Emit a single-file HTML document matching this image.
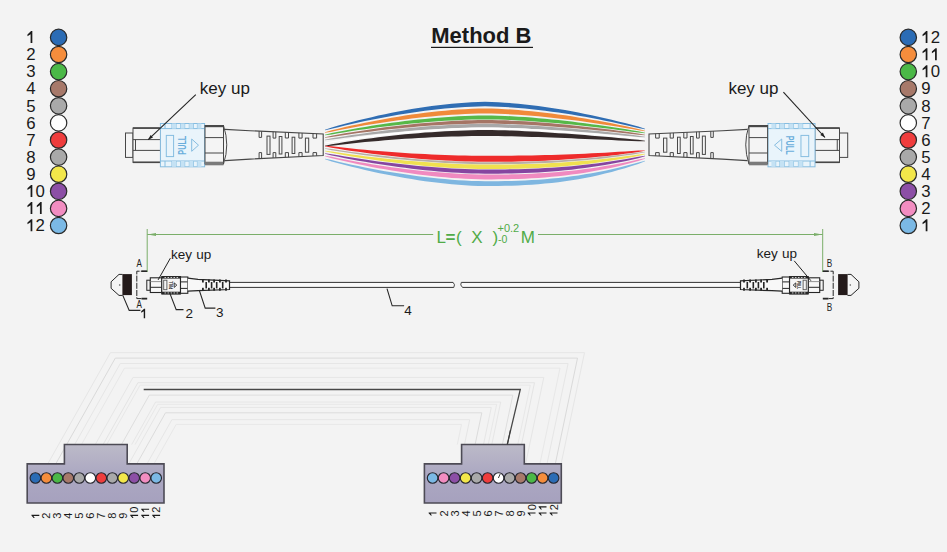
<!DOCTYPE html><html><head><meta charset="utf-8"><style>
html,body{margin:0;padding:0;background:#f3f3f3;width:947px;height:552px;overflow:hidden}
svg{position:absolute;left:0;top:0}
text{font-family:"Liberation Sans",sans-serif}
</style></head><body>
<svg width="947" height="552" viewBox="0 0 947 552">
<circle cx="58.6" cy="37.4" r="8.2" fill="#2b6cb5" stroke="#2a2a2a" stroke-width="1.2"/>
<path d="M30.60,43.10 L30.60,34.20 L27.46,36.13 L27.46,34.45 L31.07,31.07 L32.33,31.07 L32.33,43.10 Z" fill="#1a1a1a"/>
<circle cx="908.3" cy="37.4" r="8.2" fill="#2b6cb5" stroke="#2a2a2a" stroke-width="1.2"/>
<path d="M925.70,43.10 L925.70,34.20 L922.56,36.13 L922.56,34.45 L926.17,31.07 L927.43,31.07 L927.43,43.10 Z" fill="#1a1a1a"/><text x="930.64" y="43.10" font-size="16.8" fill="#1a1a1a">2</text>
<circle cx="58.6" cy="54.5" r="8.2" fill="#f58d3c" stroke="#2a2a2a" stroke-width="1.2"/>
<text x="26.20" y="60.20" font-size="16.8" fill="#1a1a1a">2</text>
<circle cx="908.3" cy="54.5" r="8.2" fill="#f58d3c" stroke="#2a2a2a" stroke-width="1.2"/>
<path d="M925.70,60.20 L925.70,51.30 L922.56,53.23 L922.56,51.55 L926.17,48.17 L927.43,48.17 L927.43,60.20 Z" fill="#1a1a1a"/><path d="M935.04,60.20 L935.04,51.30 L931.90,53.23 L931.90,51.55 L935.51,48.17 L936.77,48.17 L936.77,60.20 Z" fill="#1a1a1a"/>
<circle cx="58.6" cy="71.6" r="8.2" fill="#4bb847" stroke="#2a2a2a" stroke-width="1.2"/>
<text x="26.20" y="77.30" font-size="16.8" fill="#1a1a1a">3</text>
<circle cx="908.3" cy="71.6" r="8.2" fill="#4bb847" stroke="#2a2a2a" stroke-width="1.2"/>
<path d="M925.70,77.30 L925.70,68.40 L922.56,70.33 L922.56,68.65 L926.17,65.27 L927.43,65.27 L927.43,77.30 Z" fill="#1a1a1a"/><text x="930.64" y="77.30" font-size="16.8" fill="#1a1a1a">0</text>
<circle cx="58.6" cy="88.7" r="8.2" fill="#a7796a" stroke="#2a2a2a" stroke-width="1.2"/>
<text x="26.20" y="94.40" font-size="16.8" fill="#1a1a1a">4</text>
<circle cx="908.3" cy="88.7" r="8.2" fill="#a7796a" stroke="#2a2a2a" stroke-width="1.2"/>
<text x="921.30" y="94.40" font-size="16.8" fill="#1a1a1a">9</text>
<circle cx="58.6" cy="105.8" r="8.2" fill="#a9a9a9" stroke="#2a2a2a" stroke-width="1.2"/>
<text x="26.20" y="111.50" font-size="16.8" fill="#1a1a1a">5</text>
<circle cx="908.3" cy="105.8" r="8.2" fill="#a9a9a9" stroke="#2a2a2a" stroke-width="1.2"/>
<text x="921.30" y="111.50" font-size="16.8" fill="#1a1a1a">8</text>
<circle cx="58.6" cy="122.9" r="8.2" fill="#ffffff" stroke="#2a2a2a" stroke-width="1.2"/>
<text x="26.20" y="128.60" font-size="16.8" fill="#1a1a1a">6</text>
<circle cx="908.3" cy="122.9" r="8.2" fill="#ffffff" stroke="#2a2a2a" stroke-width="1.2"/>
<text x="921.30" y="128.60" font-size="16.8" fill="#1a1a1a">7</text>
<circle cx="58.6" cy="140.0" r="8.2" fill="#ef3d3d" stroke="#2a2a2a" stroke-width="1.2"/>
<text x="26.20" y="145.70" font-size="16.8" fill="#1a1a1a">7</text>
<circle cx="908.3" cy="140.0" r="8.2" fill="#ef3d3d" stroke="#2a2a2a" stroke-width="1.2"/>
<text x="921.30" y="145.70" font-size="16.8" fill="#1a1a1a">6</text>
<circle cx="58.6" cy="157.1" r="8.2" fill="#a9a9a9" stroke="#2a2a2a" stroke-width="1.2"/>
<text x="26.20" y="162.80" font-size="16.8" fill="#1a1a1a">8</text>
<circle cx="908.3" cy="157.1" r="8.2" fill="#a9a9a9" stroke="#2a2a2a" stroke-width="1.2"/>
<text x="921.30" y="162.80" font-size="16.8" fill="#1a1a1a">5</text>
<circle cx="58.6" cy="174.2" r="8.2" fill="#f3e74a" stroke="#2a2a2a" stroke-width="1.2"/>
<text x="26.20" y="179.90" font-size="16.8" fill="#1a1a1a">9</text>
<circle cx="908.3" cy="174.2" r="8.2" fill="#f3e74a" stroke="#2a2a2a" stroke-width="1.2"/>
<text x="921.30" y="179.90" font-size="16.8" fill="#1a1a1a">4</text>
<circle cx="58.6" cy="191.3" r="8.2" fill="#8c4fa6" stroke="#2a2a2a" stroke-width="1.2"/>
<path d="M30.60,197.00 L30.60,188.10 L27.46,190.03 L27.46,188.35 L31.07,184.97 L32.33,184.97 L32.33,197.00 Z" fill="#1a1a1a"/><text x="35.54" y="197.00" font-size="16.8" fill="#1a1a1a">0</text>
<circle cx="908.3" cy="191.3" r="8.2" fill="#8c4fa6" stroke="#2a2a2a" stroke-width="1.2"/>
<text x="921.30" y="197.00" font-size="16.8" fill="#1a1a1a">3</text>
<circle cx="58.6" cy="208.4" r="8.2" fill="#f28dc1" stroke="#2a2a2a" stroke-width="1.2"/>
<path d="M30.60,214.10 L30.60,205.20 L27.46,207.13 L27.46,205.45 L31.07,202.07 L32.33,202.07 L32.33,214.10 Z" fill="#1a1a1a"/><path d="M39.94,214.10 L39.94,205.20 L36.80,207.13 L36.80,205.45 L40.41,202.07 L41.67,202.07 L41.67,214.10 Z" fill="#1a1a1a"/>
<circle cx="908.3" cy="208.4" r="8.2" fill="#f28dc1" stroke="#2a2a2a" stroke-width="1.2"/>
<text x="921.30" y="214.10" font-size="16.8" fill="#1a1a1a">2</text>
<circle cx="58.6" cy="225.5" r="8.2" fill="#7bb9e5" stroke="#2a2a2a" stroke-width="1.2"/>
<path d="M30.60,231.20 L30.60,222.30 L27.46,224.23 L27.46,222.55 L31.07,219.17 L32.33,219.17 L32.33,231.20 Z" fill="#1a1a1a"/><text x="35.54" y="231.20" font-size="16.8" fill="#1a1a1a">2</text>
<circle cx="908.3" cy="225.5" r="8.2" fill="#7bb9e5" stroke="#2a2a2a" stroke-width="1.2"/>
<path d="M925.70,231.20 L925.70,222.30 L922.56,224.23 L922.56,222.55 L926.17,219.17 L927.43,219.17 L927.43,231.20 Z" fill="#1a1a1a"/>
<text x="431.3" y="42.5" font-size="22" font-weight="bold" fill="#1a1a1a">Method B</text>
<rect x="431" y="46.8" width="102" height="1.2" fill="#1a1a1a"/>
<path d="M325.0,129.80 L331.7,127.50 L338.3,125.62 L345.0,123.80 L351.7,122.03 L358.3,120.33 L365.0,118.70 L371.7,117.13 L378.3,115.62 L385.0,114.18 L391.7,112.81 L398.3,111.50 L405.0,110.27 L411.7,109.10 L418.3,108.02 L425.0,107.00 L431.7,106.06 L438.3,105.20 L445.0,104.43 L451.7,103.74 L458.3,103.14 L465.0,102.64 L471.7,102.25 L478.3,101.97 L485.0,101.85 L491.7,101.97 L498.3,102.25 L505.0,102.64 L511.7,103.13 L518.3,103.73 L525.0,104.41 L531.7,105.17 L538.3,106.01 L545.0,106.93 L551.7,107.92 L558.3,108.98 L565.0,110.11 L571.7,111.31 L578.3,112.57 L585.0,113.90 L591.7,115.29 L598.3,116.73 L605.0,118.24 L611.7,119.80 L618.3,121.42 L625.0,123.10 L631.7,124.83 L638.3,126.61 L645.0,128.80 L645.0,129.20 L638.3,127.95 L631.7,126.40 L625.0,124.89 L618.3,123.43 L611.7,122.02 L605.0,120.65 L598.3,119.34 L591.7,118.08 L585.0,116.87 L578.3,115.71 L571.7,114.61 L565.0,113.57 L558.3,112.58 L551.7,111.65 L545.0,110.79 L538.3,109.99 L531.7,109.25 L525.0,108.58 L518.3,107.99 L511.7,107.47 L505.0,107.04 L498.3,106.70 L491.7,106.46 L485.0,106.35 L478.3,106.46 L471.7,106.70 L465.0,107.04 L458.3,107.48 L451.7,108.00 L445.0,108.61 L438.3,109.29 L431.7,110.04 L425.0,110.86 L418.3,111.75 L411.7,112.70 L405.0,113.72 L398.3,114.80 L391.7,115.95 L385.0,117.15 L378.3,118.41 L371.7,119.73 L365.0,121.11 L358.3,122.55 L351.7,124.04 L345.0,125.59 L338.3,127.19 L331.7,128.84 L325.0,130.20 Z" fill="#2f6db3"/>
<path d="M325.0,132.30 L331.7,130.28 L338.3,128.67 L345.0,127.11 L351.7,125.61 L358.3,124.16 L365.0,122.76 L371.7,121.43 L378.3,120.14 L385.0,118.92 L391.7,117.75 L398.3,116.65 L405.0,115.60 L411.7,114.62 L418.3,113.70 L425.0,112.84 L431.7,112.05 L438.3,111.32 L445.0,110.67 L451.7,110.09 L458.3,109.59 L465.0,109.16 L471.7,108.83 L478.3,108.60 L485.0,108.50 L491.7,108.60 L498.3,108.83 L505.0,109.16 L511.7,109.57 L518.3,110.07 L525.0,110.63 L531.7,111.27 L538.3,111.97 L545.0,112.73 L551.7,113.55 L558.3,114.43 L565.0,115.37 L571.7,116.36 L578.3,117.40 L585.0,118.50 L591.7,119.64 L598.3,120.84 L605.0,122.07 L611.7,123.36 L618.3,124.69 L625.0,126.07 L631.7,127.49 L638.3,128.95 L645.0,130.80 L645.0,131.20 L638.3,130.32 L631.7,129.12 L625.0,127.96 L618.3,126.83 L611.7,125.74 L605.0,124.68 L598.3,123.67 L591.7,122.69 L585.0,121.74 L578.3,120.84 L571.7,119.99 L565.0,119.17 L558.3,118.40 L551.7,117.67 L545.0,117.00 L538.3,116.37 L531.7,115.79 L525.0,115.26 L518.3,114.80 L511.7,114.39 L505.0,114.05 L498.3,113.77 L491.7,113.58 L485.0,113.50 L478.3,113.58 L471.7,113.78 L465.0,114.05 L458.3,114.40 L451.7,114.82 L445.0,115.30 L438.3,115.84 L431.7,116.44 L425.0,117.10 L418.3,117.81 L411.7,118.58 L405.0,119.40 L398.3,120.27 L391.7,121.19 L385.0,122.17 L378.3,123.19 L371.7,124.26 L365.0,125.37 L358.3,126.54 L351.7,127.75 L345.0,129.01 L338.3,130.31 L331.7,131.66 L325.0,132.70 Z" fill="#f08a3a"/>
<path d="M325.0,134.80 L331.7,133.08 L338.3,131.76 L345.0,130.48 L351.7,129.25 L358.3,128.07 L365.0,126.93 L371.7,125.84 L378.3,124.79 L385.0,123.80 L391.7,122.85 L398.3,121.96 L405.0,121.11 L411.7,120.31 L418.3,119.57 L425.0,118.88 L431.7,118.24 L438.3,117.66 L445.0,117.13 L451.7,116.67 L458.3,116.27 L465.0,115.93 L471.7,115.67 L478.3,115.48 L485.0,115.40 L491.7,115.48 L498.3,115.66 L505.0,115.92 L511.7,116.25 L518.3,116.64 L525.0,117.09 L531.7,117.59 L538.3,118.14 L545.0,118.74 L551.7,119.38 L558.3,120.07 L565.0,120.80 L571.7,121.57 L578.3,122.39 L585.0,123.24 L591.7,124.13 L598.3,125.05 L605.0,126.01 L611.7,127.00 L618.3,128.03 L625.0,129.09 L631.7,130.18 L638.3,131.30 L645.0,132.80 L645.0,133.20 L638.3,132.60 L631.7,131.68 L625.0,130.78 L618.3,129.90 L611.7,129.05 L605.0,128.23 L598.3,127.44 L591.7,126.67 L585.0,125.93 L578.3,125.23 L571.7,124.55 L565.0,123.91 L558.3,123.30 L551.7,122.73 L545.0,122.19 L538.3,121.69 L531.7,121.23 L525.0,120.81 L518.3,120.44 L511.7,120.11 L505.0,119.84 L498.3,119.62 L491.7,119.47 L485.0,119.40 L478.3,119.47 L471.7,119.62 L465.0,119.85 L458.3,120.13 L451.7,120.47 L445.0,120.86 L438.3,121.30 L431.7,121.79 L425.0,122.33 L418.3,122.91 L411.7,123.54 L405.0,124.22 L398.3,124.93 L391.7,125.69 L385.0,126.50 L378.3,127.34 L371.7,128.22 L365.0,129.15 L358.3,130.12 L351.7,131.12 L345.0,132.17 L338.3,133.26 L331.7,134.38 L325.0,135.20 Z" fill="#56b848"/>
<path d="M325.0,137.30 L331.7,135.71 L338.3,134.52 L345.0,133.36 L351.7,132.25 L358.3,131.19 L365.0,130.16 L371.7,129.18 L378.3,128.25 L385.0,127.36 L391.7,126.51 L398.3,125.71 L405.0,124.96 L411.7,124.25 L418.3,123.58 L425.0,122.97 L431.7,122.41 L438.3,121.89 L445.0,121.43 L451.7,121.02 L458.3,120.66 L465.0,120.37 L471.7,120.13 L478.3,119.97 L485.0,119.90 L491.7,119.97 L498.3,120.13 L505.0,120.36 L511.7,120.64 L518.3,120.98 L525.0,121.37 L531.7,121.80 L538.3,122.28 L545.0,122.79 L551.7,123.35 L558.3,123.94 L565.0,124.57 L571.7,125.23 L578.3,125.93 L585.0,126.66 L591.7,127.41 L598.3,128.20 L605.0,129.01 L611.7,129.86 L618.3,130.73 L625.0,131.62 L631.7,132.54 L638.3,133.48 L645.0,134.80 L645.0,135.20 L638.3,134.76 L631.7,133.98 L625.0,133.23 L618.3,132.49 L611.7,131.78 L605.0,131.08 L598.3,130.41 L591.7,129.76 L585.0,129.13 L578.3,128.53 L571.7,127.95 L565.0,127.40 L558.3,126.88 L551.7,126.38 L545.0,125.92 L538.3,125.49 L531.7,125.09 L525.0,124.73 L518.3,124.41 L511.7,124.12 L505.0,123.88 L498.3,123.69 L491.7,123.56 L485.0,123.50 L478.3,123.56 L471.7,123.70 L465.0,123.89 L458.3,124.14 L451.7,124.44 L445.0,124.79 L438.3,125.18 L431.7,125.62 L425.0,126.10 L418.3,126.62 L411.7,127.18 L405.0,127.79 L398.3,128.43 L391.7,129.11 L385.0,129.83 L378.3,130.59 L371.7,131.39 L365.0,132.23 L358.3,133.11 L351.7,134.02 L345.0,134.97 L338.3,135.96 L331.7,136.99 L325.0,137.70 Z" fill="#a57565"/>
<path d="M325.0,139.80 L331.7,138.30 L338.3,137.20 L345.0,136.13 L351.7,135.11 L358.3,134.13 L365.0,133.19 L371.7,132.29 L378.3,131.43 L385.0,130.61 L391.7,129.84 L398.3,129.11 L405.0,128.42 L411.7,127.78 L418.3,127.17 L425.0,126.62 L431.7,126.11 L438.3,125.64 L445.0,125.22 L451.7,124.85 L458.3,124.53 L465.0,124.27 L471.7,124.06 L478.3,123.91 L485.0,123.85 L491.7,123.91 L498.3,124.05 L505.0,124.26 L511.7,124.51 L518.3,124.81 L525.0,125.15 L531.7,125.53 L538.3,125.95 L545.0,126.41 L551.7,126.89 L558.3,127.41 L565.0,127.96 L571.7,128.54 L578.3,129.14 L585.0,129.77 L591.7,130.43 L598.3,131.10 L605.0,131.81 L611.7,132.53 L618.3,133.28 L625.0,134.04 L631.7,134.83 L638.3,135.63 L645.0,136.80 L645.0,137.20 L638.3,136.91 L631.7,136.28 L625.0,135.67 L618.3,135.07 L611.7,134.48 L605.0,133.91 L598.3,133.36 L591.7,132.82 L585.0,132.30 L578.3,131.80 L571.7,131.32 L565.0,130.86 L558.3,130.42 L551.7,130.01 L545.0,129.61 L538.3,129.25 L531.7,128.91 L525.0,128.60 L518.3,128.33 L511.7,128.08 L505.0,127.88 L498.3,127.72 L491.7,127.60 L485.0,127.55 L478.3,127.60 L471.7,127.72 L465.0,127.89 L458.3,128.11 L451.7,128.37 L445.0,128.67 L438.3,129.02 L431.7,129.40 L425.0,129.83 L418.3,130.29 L411.7,130.79 L405.0,131.32 L398.3,131.89 L391.7,132.50 L385.0,133.14 L378.3,133.82 L371.7,134.54 L365.0,135.29 L358.3,136.08 L351.7,136.90 L345.0,137.76 L338.3,138.65 L331.7,139.58 L325.0,140.20 Z" fill="#a8a8a8"/>
<path d="M325.0,142.80 L331.7,141.32 L338.3,140.24 L345.0,139.19 L351.7,138.19 L358.3,137.24 L365.0,136.32 L371.7,135.45 L378.3,134.62 L385.0,133.83 L391.7,133.09 L398.3,132.38 L405.0,131.72 L411.7,131.11 L418.3,130.53 L425.0,130.00 L431.7,129.52 L438.3,129.08 L445.0,128.68 L451.7,128.34 L458.3,128.04 L465.0,127.79 L471.7,127.59 L478.3,127.46 L485.0,127.40 L491.7,127.46 L498.3,127.59 L505.0,127.77 L511.7,128.00 L518.3,128.28 L525.0,128.59 L531.7,128.93 L538.3,129.31 L545.0,129.72 L551.7,130.16 L558.3,130.62 L565.0,131.11 L571.7,131.62 L578.3,132.15 L585.0,132.71 L591.7,133.28 L598.3,133.87 L605.0,134.48 L611.7,135.11 L618.3,135.75 L625.0,136.41 L631.7,137.07 L638.3,137.76 L645.0,138.80 L645.0,139.20 L638.3,138.92 L631.7,138.30 L625.0,137.69 L618.3,137.09 L611.7,136.50 L605.0,135.93 L598.3,135.37 L591.7,134.83 L585.0,134.30 L578.3,133.79 L571.7,133.30 L565.0,132.83 L558.3,132.38 L551.7,131.95 L545.0,131.55 L538.3,131.17 L531.7,130.82 L525.0,130.50 L518.3,130.22 L511.7,129.96 L505.0,129.75 L498.3,129.58 L491.7,129.45 L485.0,129.40 L478.3,129.46 L471.7,129.58 L465.0,129.76 L458.3,129.99 L451.7,130.27 L445.0,130.60 L438.3,130.97 L431.7,131.38 L425.0,131.83 L418.3,132.33 L411.7,132.87 L405.0,133.45 L398.3,134.07 L391.7,134.73 L385.0,135.43 L378.3,136.17 L371.7,136.95 L365.0,137.77 L358.3,138.63 L351.7,139.53 L345.0,140.48 L338.3,141.46 L331.7,142.48 L325.0,143.20 Z" fill="#ffffff"/>
<path d="M325.0,145.80 L331.7,144.27 L338.3,143.15 L345.0,142.06 L351.7,141.03 L358.3,140.04 L365.0,139.09 L371.7,138.19 L378.3,137.34 L385.0,136.53 L391.7,135.76 L398.3,135.04 L405.0,134.37 L411.7,133.74 L418.3,133.16 L425.0,132.62 L431.7,132.13 L438.3,131.68 L445.0,131.29 L451.7,130.94 L458.3,130.64 L465.0,130.39 L471.7,130.19 L478.3,130.06 L485.0,130.00 L491.7,130.06 L498.3,130.19 L505.0,130.37 L511.7,130.60 L518.3,130.86 L525.0,131.17 L531.7,131.50 L538.3,131.87 L545.0,132.27 L551.7,132.69 L558.3,133.13 L565.0,133.60 L571.7,134.09 L578.3,134.60 L585.0,135.12 L591.7,135.66 L598.3,136.22 L605.0,136.79 L611.7,137.37 L618.3,137.97 L625.0,138.58 L631.7,139.19 L638.3,139.82 L645.0,140.80 L645.0,141.20 L638.3,141.26 L631.7,140.97 L625.0,140.67 L618.3,140.38 L611.7,140.08 L605.0,139.79 L598.3,139.49 L591.7,139.20 L585.0,138.92 L578.3,138.64 L571.7,138.36 L565.0,138.09 L558.3,137.83 L551.7,137.58 L545.0,137.34 L538.3,137.11 L531.7,136.90 L525.0,136.70 L518.3,136.52 L511.7,136.36 L505.0,136.23 L498.3,136.11 L491.7,136.04 L485.0,136.00 L478.3,136.04 L471.7,136.12 L465.0,136.24 L458.3,136.40 L451.7,136.60 L445.0,136.82 L438.3,137.08 L431.7,137.37 L425.0,137.70 L418.3,138.05 L411.7,138.44 L405.0,138.86 L398.3,139.32 L391.7,139.80 L385.0,140.32 L378.3,140.88 L371.7,141.46 L365.0,142.09 L358.3,142.74 L351.7,143.43 L345.0,144.16 L338.3,144.92 L331.7,145.72 L325.0,146.20 Z" fill="#352b2b"/>
<path d="M325.0,145.80 L331.7,146.26 L338.3,147.04 L345.0,147.78 L351.7,148.49 L358.3,149.16 L365.0,149.81 L371.7,150.41 L378.3,150.99 L385.0,151.53 L391.7,152.04 L398.3,152.52 L405.0,152.97 L411.7,153.38 L418.3,153.77 L425.0,154.12 L431.7,154.44 L438.3,154.73 L445.0,154.98 L451.7,155.21 L458.3,155.40 L465.0,155.56 L471.7,155.68 L478.3,155.76 L485.0,155.80 L491.7,155.80 L498.3,155.78 L505.0,155.75 L511.7,155.70 L518.3,155.62 L525.0,155.53 L531.7,155.42 L538.3,155.28 L545.0,155.12 L551.7,154.93 L558.3,154.72 L565.0,154.49 L571.7,154.24 L578.3,153.96 L585.0,153.66 L591.7,153.34 L598.3,152.99 L605.0,152.63 L611.7,152.24 L618.3,151.84 L625.0,151.42 L631.7,150.98 L638.3,150.52 L645.0,150.40 L645.0,150.80 L638.3,152.10 L631.7,153.00 L625.0,153.86 L618.3,154.68 L611.7,155.45 L605.0,156.17 L598.3,156.85 L591.7,157.49 L585.0,158.07 L578.3,158.62 L571.7,159.11 L565.0,159.56 L558.3,159.97 L551.7,160.33 L545.0,160.65 L538.3,160.93 L531.7,161.16 L525.0,161.36 L518.3,161.51 L511.7,161.63 L505.0,161.71 L498.3,161.77 L491.7,161.79 L485.0,161.80 L478.3,161.74 L471.7,161.61 L465.0,161.41 L458.3,161.17 L451.7,160.87 L445.0,160.52 L438.3,160.12 L431.7,159.68 L425.0,159.19 L418.3,158.66 L411.7,158.08 L405.0,157.46 L398.3,156.79 L391.7,156.08 L385.0,155.33 L378.3,154.53 L371.7,153.69 L365.0,152.80 L358.3,151.87 L351.7,150.90 L345.0,149.88 L338.3,148.81 L331.7,147.70 L325.0,146.20 Z" fill="#ee2b2b"/>
<path d="M325.0,148.30 L331.7,149.01 L338.3,150.04 L345.0,151.02 L351.7,151.96 L358.3,152.87 L365.0,153.73 L371.7,154.55 L378.3,155.34 L385.0,156.09 L391.7,156.79 L398.3,157.46 L405.0,158.08 L411.7,158.67 L418.3,159.21 L425.0,159.72 L431.7,160.18 L438.3,160.60 L445.0,160.97 L451.7,161.31 L458.3,161.59 L465.0,161.83 L471.7,162.01 L478.3,162.14 L485.0,162.20 L491.7,162.19 L498.3,162.17 L505.0,162.12 L511.7,162.03 L518.3,161.92 L525.0,161.77 L531.7,161.58 L538.3,161.35 L545.0,161.07 L551.7,160.76 L558.3,160.40 L565.0,160.00 L571.7,159.55 L578.3,159.05 L585.0,158.51 L591.7,157.92 L598.3,157.28 L605.0,156.59 L611.7,155.86 L618.3,155.07 L625.0,154.24 L631.7,153.36 L638.3,152.43 L645.0,151.80 L645.0,152.20 L638.3,153.62 L631.7,154.63 L625.0,155.59 L618.3,156.49 L611.7,157.34 L605.0,158.14 L598.3,158.88 L591.7,159.58 L585.0,160.22 L578.3,160.80 L571.7,161.34 L565.0,161.83 L558.3,162.26 L551.7,162.65 L545.0,162.99 L538.3,163.28 L531.7,163.53 L525.0,163.73 L518.3,163.90 L511.7,164.02 L505.0,164.11 L498.3,164.17 L491.7,164.19 L485.0,164.20 L478.3,164.14 L471.7,164.00 L465.0,163.80 L458.3,163.55 L451.7,163.24 L445.0,162.89 L438.3,162.49 L431.7,162.04 L425.0,161.55 L418.3,161.01 L411.7,160.43 L405.0,159.81 L398.3,159.14 L391.7,158.43 L385.0,157.68 L378.3,156.89 L371.7,156.05 L365.0,155.18 L358.3,154.26 L351.7,153.30 L345.0,152.30 L338.3,151.26 L331.7,150.18 L325.0,148.70 Z" fill="#b8aea4"/>
<path d="M325.0,150.80 L331.7,151.49 L338.3,152.50 L345.0,153.46 L351.7,154.39 L358.3,155.28 L365.0,156.13 L371.7,156.95 L378.3,157.72 L385.0,158.46 L391.7,159.16 L398.3,159.82 L405.0,160.44 L411.7,161.02 L418.3,161.56 L425.0,162.07 L431.7,162.53 L438.3,162.94 L445.0,163.32 L451.7,163.65 L458.3,163.94 L465.0,164.18 L471.7,164.36 L478.3,164.49 L485.0,164.55 L491.7,164.54 L498.3,164.52 L505.0,164.47 L511.7,164.38 L518.3,164.27 L525.0,164.11 L531.7,163.92 L538.3,163.68 L545.0,163.41 L551.7,163.09 L558.3,162.72 L565.0,162.30 L571.7,161.84 L578.3,161.33 L585.0,160.78 L591.7,160.17 L598.3,159.51 L605.0,158.80 L611.7,158.04 L618.3,157.22 L625.0,156.36 L631.7,155.44 L638.3,154.47 L645.0,153.80 L645.0,154.20 L638.3,155.90 L631.7,157.18 L625.0,158.39 L618.3,159.53 L611.7,160.59 L605.0,161.59 L598.3,162.52 L591.7,163.38 L585.0,164.17 L578.3,164.90 L571.7,165.56 L565.0,166.16 L558.3,166.70 L551.7,167.17 L545.0,167.58 L538.3,167.94 L531.7,168.24 L525.0,168.49 L518.3,168.69 L511.7,168.84 L505.0,168.94 L498.3,169.01 L491.7,169.04 L485.0,169.05 L478.3,168.98 L471.7,168.81 L465.0,168.58 L458.3,168.28 L451.7,167.92 L445.0,167.50 L438.3,167.03 L431.7,166.50 L425.0,165.92 L418.3,165.30 L411.7,164.62 L405.0,163.89 L398.3,163.12 L391.7,162.30 L385.0,161.43 L378.3,160.52 L371.7,159.56 L365.0,158.55 L358.3,157.50 L351.7,156.40 L345.0,155.25 L338.3,154.06 L331.7,152.83 L325.0,151.20 Z" fill="#f0e050"/>
<path d="M325.0,153.30 L331.7,154.15 L338.3,155.32 L345.0,156.44 L351.7,157.51 L358.3,158.55 L365.0,159.54 L371.7,160.49 L378.3,161.40 L385.0,162.27 L391.7,163.09 L398.3,163.87 L405.0,164.60 L411.7,165.29 L418.3,165.93 L425.0,166.52 L431.7,167.07 L438.3,167.57 L445.0,168.02 L451.7,168.42 L458.3,168.76 L465.0,169.05 L471.7,169.27 L478.3,169.43 L485.0,169.50 L491.7,169.49 L498.3,169.46 L505.0,169.40 L511.7,169.30 L518.3,169.15 L525.0,168.96 L531.7,168.72 L538.3,168.43 L545.0,168.09 L551.7,167.69 L558.3,167.24 L565.0,166.72 L571.7,166.14 L578.3,165.50 L585.0,164.80 L591.7,164.03 L598.3,163.20 L605.0,162.30 L611.7,161.33 L618.3,160.29 L625.0,159.19 L631.7,158.01 L638.3,156.77 L645.0,155.80 L645.0,156.20 L638.3,158.17 L631.7,159.70 L625.0,161.14 L618.3,162.49 L611.7,163.76 L605.0,164.95 L598.3,166.04 L591.7,167.06 L585.0,168.00 L578.3,168.85 L571.7,169.63 L565.0,170.33 L558.3,170.96 L551.7,171.51 L545.0,172.00 L538.3,172.41 L531.7,172.76 L525.0,173.05 L518.3,173.28 L511.7,173.45 L505.0,173.58 L498.3,173.65 L491.7,173.69 L485.0,173.70 L478.3,173.62 L471.7,173.43 L465.0,173.16 L458.3,172.82 L451.7,172.40 L445.0,171.93 L438.3,171.39 L431.7,170.79 L425.0,170.14 L418.3,169.43 L411.7,168.66 L405.0,167.84 L398.3,166.97 L391.7,166.05 L385.0,165.07 L378.3,164.05 L371.7,162.97 L365.0,161.84 L358.3,160.67 L351.7,159.44 L345.0,158.17 L338.3,156.84 L331.7,155.47 L325.0,153.70 Z" fill="#8645a0"/>
<path d="M325.0,155.80 L331.7,156.84 L338.3,158.17 L345.0,159.46 L351.7,160.71 L358.3,161.90 L365.0,163.05 L371.7,164.15 L378.3,165.20 L385.0,166.20 L391.7,167.15 L398.3,168.05 L405.0,168.90 L411.7,169.70 L418.3,170.44 L425.0,171.13 L431.7,171.77 L438.3,172.35 L445.0,172.87 L451.7,173.34 L458.3,173.74 L465.0,174.07 L471.7,174.34 L478.3,174.52 L485.0,174.60 L491.7,174.59 L498.3,174.55 L505.0,174.48 L511.7,174.36 L518.3,174.19 L525.0,173.97 L531.7,173.69 L538.3,173.35 L545.0,172.94 L551.7,172.47 L558.3,171.94 L565.0,171.33 L571.7,170.65 L578.3,169.89 L585.0,169.06 L591.7,168.15 L598.3,167.16 L605.0,166.10 L611.7,164.95 L618.3,163.72 L625.0,162.40 L631.7,161.00 L638.3,159.52 L645.0,158.30 L645.0,158.70 L638.3,160.98 L631.7,162.80 L625.0,164.52 L618.3,166.13 L611.7,167.64 L605.0,169.04 L598.3,170.35 L591.7,171.55 L585.0,172.66 L578.3,173.68 L571.7,174.60 L565.0,175.43 L558.3,176.17 L551.7,176.82 L545.0,177.39 L538.3,177.88 L531.7,178.30 L525.0,178.64 L518.3,178.91 L511.7,179.11 L505.0,179.25 L498.3,179.34 L491.7,179.39 L485.0,179.40 L478.3,179.30 L471.7,179.08 L465.0,178.77 L458.3,178.36 L451.7,177.88 L445.0,177.32 L438.3,176.70 L431.7,176.00 L425.0,175.23 L418.3,174.41 L411.7,173.51 L405.0,172.56 L398.3,171.54 L391.7,170.47 L385.0,169.33 L378.3,168.14 L371.7,166.89 L365.0,165.58 L358.3,164.21 L351.7,162.79 L345.0,161.31 L338.3,159.78 L331.7,158.19 L325.0,156.20 Z" fill="#f08ac0"/>
<path d="M325.0,158.80 L331.7,160.08 L338.3,161.65 L345.0,163.17 L351.7,164.64 L358.3,166.05 L365.0,167.40 L371.7,168.70 L378.3,169.95 L385.0,171.14 L391.7,172.27 L398.3,173.34 L405.0,174.35 L411.7,175.30 L418.3,176.20 L425.0,177.02 L431.7,177.79 L438.3,178.49 L445.0,179.12 L451.7,179.67 L458.3,180.16 L465.0,180.56 L471.7,180.88 L478.3,181.10 L485.0,181.20 L491.7,181.19 L498.3,181.14 L505.0,181.05 L511.7,180.91 L518.3,180.70 L525.0,180.43 L531.7,180.08 L538.3,179.67 L545.0,179.17 L551.7,178.59 L558.3,177.93 L565.0,177.17 L571.7,176.33 L578.3,175.39 L585.0,174.36 L591.7,173.23 L598.3,172.00 L605.0,170.67 L611.7,169.24 L618.3,167.70 L625.0,166.05 L631.7,164.29 L638.3,162.43 L645.0,160.80 L645.0,161.20 L638.3,163.89 L631.7,166.09 L625.0,168.16 L618.3,170.11 L611.7,171.92 L605.0,173.62 L598.3,175.19 L591.7,176.63 L585.0,177.96 L578.3,179.18 L571.7,180.28 L565.0,181.27 L558.3,182.16 L551.7,182.94 L545.0,183.62 L538.3,184.20 L531.7,184.69 L525.0,185.10 L518.3,185.42 L511.7,185.66 L505.0,185.83 L498.3,185.93 L491.7,185.99 L485.0,186.00 L478.3,185.89 L471.7,185.63 L465.0,185.25 L458.3,184.78 L451.7,184.22 L445.0,183.57 L438.3,182.83 L431.7,182.02 L425.0,181.13 L418.3,180.16 L411.7,179.12 L405.0,178.01 L398.3,176.83 L391.7,175.59 L385.0,174.27 L378.3,172.89 L371.7,171.44 L365.0,169.93 L358.3,168.36 L351.7,166.72 L345.0,165.02 L338.3,163.26 L331.7,161.43 L325.0,159.20 Z" fill="#7eb6e0"/>
<g><rect x="125.50" y="133" width="7.50" height="24.40" fill="#f4f4f4" stroke="#474747" stroke-width="1"/><rect x="133.00" y="128" width="27.50" height="34.40" fill="#f4f4f4" stroke="#474747" stroke-width="1"/><rect x="133.00" y="127.3" width="27.50" height="1.60" fill="#474747"/><rect x="133.00" y="161.5" width="27.50" height="1.60" fill="#474747"/><path d="M133.00,139.60 L160.50,139.60 M133.00,150.40 L160.50,150.40 M135.50,139.60 L135.50,150.40" fill="none" stroke="#474747" stroke-width="1"/><rect x="160.40" y="123.5" width="44.20" height="43.30" fill="#e9f4fb" stroke="#86bde0" stroke-width="1"/><path d="M160.40,128.60 L204.60,128.60 M160.40,161.00 L204.60,161.00" fill="none" stroke="#86bde0" stroke-width="1"/><path d="M165.00,123.50 L165.00,128.60 M165.00,161.00 L165.00,166.80" fill="none" stroke="#86bde0" stroke-width="1"/><path d="M172.00,123.50 L172.00,128.60 M172.00,161.00 L172.00,166.80" fill="none" stroke="#86bde0" stroke-width="1"/><path d="M176.00,123.50 L176.00,128.60 M176.00,161.00 L176.00,166.80" fill="none" stroke="#86bde0" stroke-width="1"/><path d="M180.60,123.50 L180.60,128.60 M180.60,161.00 L180.60,166.80" fill="none" stroke="#86bde0" stroke-width="1"/><path d="M184.70,123.50 L184.70,128.60 M184.70,161.00 L184.70,166.80" fill="none" stroke="#86bde0" stroke-width="1"/><path d="M189.30,123.50 L189.30,128.60 M189.30,161.00 L189.30,166.80" fill="none" stroke="#86bde0" stroke-width="1"/><path d="M193.40,123.50 L193.40,128.60 M193.40,161.00 L193.40,166.80" fill="none" stroke="#86bde0" stroke-width="1"/><path d="M197.40,123.50 L197.40,128.60 M197.40,161.00 L197.40,166.80" fill="none" stroke="#86bde0" stroke-width="1"/><rect x="172.00" y="123.5" width="4.00" height="5.10" fill="#c5e2f4"/><rect x="172.00" y="161" width="4.00" height="5.80" fill="#c5e2f4"/><rect x="180.60" y="123.5" width="4.00" height="5.10" fill="#c5e2f4"/><rect x="180.60" y="161" width="4.00" height="5.80" fill="#c5e2f4"/><rect x="189.30" y="123.5" width="4.00" height="5.10" fill="#c5e2f4"/><rect x="189.30" y="161" width="4.00" height="5.80" fill="#c5e2f4"/><rect x="197.40" y="123.5" width="4.00" height="5.10" fill="#c5e2f4"/><rect x="197.40" y="161" width="4.00" height="5.80" fill="#c5e2f4"/><rect x="166.30" y="135.4" width="7.30" height="21.20" fill="none" stroke="#86bde0" stroke-width="1"/><path d="M191.70,139.00 L191.70,151.30 L198.50,145.20 Z" fill="none" stroke="#86bde0" stroke-width="1"/><rect x="205.00" y="125.5" width="18.50" height="38.40" fill="#f4f4f4" stroke="#474747" stroke-width="1"/><rect x="205.00" y="125" width="18.50" height="2.20" fill="#474747"/><rect x="205.00" y="161.7" width="18.50" height="3.60" fill="#7a7a7a"/><path d="M205.00,137.60 L223.50,137.60 M205.00,153.00 L223.50,153.00" fill="none" stroke="#474747" stroke-width="1"/><path d="M225.00,129.40 L250.00,130.70 L323.20,134.00 L323.20,155.50 L250.00,159.10 L225.00,160.60" fill="#f4f4f4" stroke="#474747" stroke-width="1.1"/><path d="M223.50,125.50 Q230.00,145.00 223.50,164.00" fill="none" stroke="#474747" stroke-width="1"/><path d="M259.10,131.11 L259.10,137.40 L261.60,137.40 L261.60,131.22" fill="none" stroke="#474747" stroke-width="1"/><path d="M259.10,158.65 L259.10,152.60 L261.60,152.60 L261.60,158.53" fill="none" stroke="#474747" stroke-width="1"/><path d="M273.10,131.74 L273.10,138.10 L275.80,138.10 L275.80,131.86" fill="none" stroke="#474747" stroke-width="1"/><path d="M273.10,157.96 L273.10,152.60 L275.80,152.60 L275.80,157.83" fill="none" stroke="#474747" stroke-width="1"/><path d="M285.30,132.29 L285.30,138.00 L288.50,138.00 L288.50,132.44" fill="none" stroke="#474747" stroke-width="1"/><path d="M285.30,157.36 L285.30,152.60 L288.50,152.60 L288.50,157.21" fill="none" stroke="#474747" stroke-width="1"/><path d="M298.90,132.90 L298.90,138.10 L302.10,138.10 L302.10,133.05" fill="none" stroke="#474747" stroke-width="1"/><path d="M298.90,156.70 L298.90,152.60 L302.10,152.60 L302.10,156.54" fill="none" stroke="#474747" stroke-width="1"/><path d="M313.00,133.54 L313.00,138.10 L316.60,138.10 L316.60,133.70" fill="none" stroke="#474747" stroke-width="1"/><path d="M313.00,156.00 L313.00,152.60 L316.60,152.60 L316.60,155.82" fill="none" stroke="#474747" stroke-width="1"/><rect x="267.00" y="136.1" width="3.00" height="18.30" fill="none" stroke="#474747" stroke-width="1"/><rect x="279.20" y="136.5" width="2.70" height="17.50" fill="none" stroke="#474747" stroke-width="1"/><rect x="292.10" y="137.2" width="2.70" height="16.30" fill="none" stroke="#474747" stroke-width="1"/><rect x="305.40" y="138.1" width="3.30" height="14.10" fill="none" stroke="#474747" stroke-width="1"/></g>
<g><rect x="839.50" y="133" width="8.20" height="24.40" fill="#f4f4f4" stroke="#474747" stroke-width="1"/><rect x="814.89" y="128" width="24.61" height="34.40" fill="#f4f4f4" stroke="#474747" stroke-width="1"/><rect x="814.89" y="127.3" width="24.61" height="1.60" fill="#474747"/><rect x="814.89" y="161.5" width="24.61" height="1.60" fill="#474747"/><path d="M839.50,139.60 L814.89,139.60 M839.50,150.40 L814.89,150.40 M837.26,139.60 L837.26,150.40" fill="none" stroke="#474747" stroke-width="1"/><rect x="768.00" y="123.5" width="47.00" height="43.30" fill="#e9f4fb" stroke="#86bde0" stroke-width="1"/><path d="M815.00,128.60 L768.00,128.60 M815.00,161.00 L768.00,161.00" fill="none" stroke="#86bde0" stroke-width="1"/><path d="M810.11,123.50 L810.11,128.60 M810.11,161.00 L810.11,166.80" fill="none" stroke="#86bde0" stroke-width="1"/><path d="M802.67,123.50 L802.67,128.60 M802.67,161.00 L802.67,166.80" fill="none" stroke="#86bde0" stroke-width="1"/><path d="M798.41,123.50 L798.41,128.60 M798.41,161.00 L798.41,166.80" fill="none" stroke="#86bde0" stroke-width="1"/><path d="M793.52,123.50 L793.52,128.60 M793.52,161.00 L793.52,166.80" fill="none" stroke="#86bde0" stroke-width="1"/><path d="M789.16,123.50 L789.16,128.60 M789.16,161.00 L789.16,166.80" fill="none" stroke="#86bde0" stroke-width="1"/><path d="M784.27,123.50 L784.27,128.60 M784.27,161.00 L784.27,166.80" fill="none" stroke="#86bde0" stroke-width="1"/><path d="M779.91,123.50 L779.91,128.60 M779.91,161.00 L779.91,166.80" fill="none" stroke="#86bde0" stroke-width="1"/><path d="M775.66,123.50 L775.66,128.60 M775.66,161.00 L775.66,166.80" fill="none" stroke="#86bde0" stroke-width="1"/><rect x="798.41" y="123.5" width="4.25" height="5.10" fill="#c5e2f4"/><rect x="798.41" y="161" width="4.25" height="5.80" fill="#c5e2f4"/><rect x="789.27" y="123.5" width="4.25" height="5.10" fill="#c5e2f4"/><rect x="789.27" y="161" width="4.25" height="5.80" fill="#c5e2f4"/><rect x="780.02" y="123.5" width="4.25" height="5.10" fill="#c5e2f4"/><rect x="780.02" y="161" width="4.25" height="5.80" fill="#c5e2f4"/><rect x="771.40" y="123.5" width="4.25" height="5.10" fill="#c5e2f4"/><rect x="771.40" y="161" width="4.25" height="5.80" fill="#c5e2f4"/><rect x="800.96" y="135.4" width="7.76" height="21.20" fill="none" stroke="#86bde0" stroke-width="1"/><path d="M781.72,139.00 L781.72,151.30 L774.49,145.20 Z" fill="none" stroke="#86bde0" stroke-width="1"/><rect x="749.00" y="125.5" width="18.60" height="38.40" fill="#f4f4f4" stroke="#474747" stroke-width="1"/><rect x="749.00" y="125" width="18.60" height="2.20" fill="#474747"/><rect x="749.00" y="161.7" width="18.60" height="3.60" fill="#7a7a7a"/><path d="M767.60,137.60 L749.00,137.60 M767.60,153.00 L749.00,153.00" fill="none" stroke="#474747" stroke-width="1"/><path d="M747.50,129.40 L722.42,130.70 L649.00,134.00 L649.00,155.50 L722.42,159.10 L747.50,160.60" fill="#f4f4f4" stroke="#474747" stroke-width="1.1"/><path d="M749.00,125.50 Q742.48,145.00 749.00,164.00" fill="none" stroke="#474747" stroke-width="1"/><path d="M713.29,131.11 L713.29,137.40 L710.79,137.40 L710.79,131.22" fill="none" stroke="#474747" stroke-width="1"/><path d="M713.29,158.65 L713.29,152.60 L710.79,152.60 L710.79,158.53" fill="none" stroke="#474747" stroke-width="1"/><path d="M699.25,131.74 L699.25,138.10 L696.54,138.10 L696.54,131.86" fill="none" stroke="#474747" stroke-width="1"/><path d="M699.25,157.96 L699.25,152.60 L696.54,152.60 L696.54,157.83" fill="none" stroke="#474747" stroke-width="1"/><path d="M687.01,132.29 L687.01,138.00 L683.80,138.00 L683.80,132.44" fill="none" stroke="#474747" stroke-width="1"/><path d="M687.01,157.36 L687.01,152.60 L683.80,152.60 L683.80,157.21" fill="none" stroke="#474747" stroke-width="1"/><path d="M673.37,132.90 L673.37,138.10 L670.16,138.10 L670.16,133.05" fill="none" stroke="#474747" stroke-width="1"/><path d="M673.37,156.70 L673.37,152.60 L670.16,152.60 L670.16,156.54" fill="none" stroke="#474747" stroke-width="1"/><path d="M659.23,133.54 L659.23,138.10 L655.62,138.10 L655.62,133.70" fill="none" stroke="#474747" stroke-width="1"/><path d="M659.23,156.00 L659.23,152.60 L655.62,152.60 L655.62,155.82" fill="none" stroke="#474747" stroke-width="1"/><rect x="702.36" y="136.1" width="3.01" height="18.30" fill="none" stroke="#474747" stroke-width="1"/><rect x="690.42" y="136.5" width="2.71" height="17.50" fill="none" stroke="#474747" stroke-width="1"/><rect x="677.49" y="137.2" width="2.71" height="16.30" fill="none" stroke="#474747" stroke-width="1"/><rect x="663.54" y="138.1" width="3.31" height="14.10" fill="none" stroke="#474747" stroke-width="1"/></g>
<text transform="translate(186.3,154.7) rotate(-90)" font-size="10" font-weight="bold" fill="#6aaedb" textLength="19" lengthAdjust="spacingAndGlyphs">PULL</text>
<text transform="translate(785.7,135.7) rotate(90)" font-size="10" font-weight="bold" fill="#6aaedb" textLength="19" lengthAdjust="spacingAndGlyphs">PULL</text>
<text x="199.8" y="94.3" font-size="17" fill="#1a1a1a">key up</text>
<text x="728.4" y="94.3" font-size="17" fill="#1a1a1a">key up</text>
<path d="M195.8,94.7 L148.2,139.7" stroke="#222" stroke-width="1.1"/><path d="M148.2,139.7 L150.6,135.0 L153.0,137.6 Z" fill="#222"/>
<path d="M783.4,92.2 L825,137.5" stroke="#222" stroke-width="1.1"/><path d="M825,137.5 L820.3,135.0 L822.9,132.6 Z" fill="#222"/>
<path d="M147.2,229 V272 M822.7,229 V272" stroke="#7aae69" stroke-width="1" fill="none"/>
<path d="M147.2,234.5 H433.2 M538,234.5 H822.7" stroke="#7aae69" stroke-width="1" fill="none"/>
<path d="M147.5,234.5 L156,233.1 V235.9 Z M822.4,234.5 L814,233.1 V235.9 Z" fill="#7aae69"/>
<text x="436.6" y="242.6" font-size="17" fill="#50ab47">L</text>
<text x="445.6" y="242.6" font-size="17" font-weight="bold" fill="#50ab47">=</text>
<text x="456" y="242.6" font-size="17" fill="#50ab47">(</text>
<text x="471.3" y="242.6" font-size="17" fill="#50ab47">X</text>
<text x="492.6" y="242.6" font-size="17" fill="#50ab47">)</text>
<text x="498" y="242.6" font-size="10.5" fill="#50ab47">-0</text>
<text x="497.5" y="231.6" font-size="11" fill="#50ab47">+0.2</text>
<text x="520.8" y="242.6" font-size="17" fill="#50ab47">M</text>
<path d="M229,282.4 H453.1 Q455,284.9 453.8,287.4 H229 Z M461.3,282.4 H741 V287.4 H462.5 Q460,284.9 461.3,282.4 Z" fill="#fafafa"/>
<path d="M229,282.4 H453.1 M229,287.4 H453.8 M461.3,282.4 H741 M462.5,287.4 H741" stroke="#333" stroke-width="1"/>
<path d="M453.1,282.4 Q455.5,284.6 453.8,287.4 M461.3,282.4 Q459.6,285 462.5,287.4" fill="none" stroke="#333" stroke-width="0.9"/>
<g><path d="M122.5,274.4 H119 L111.1,281.8 V288.3 L119,295.4 H122.5" fill="#f4f4f4" stroke="#262626" stroke-width="1"/><rect x="122.4" y="274.1" width="9.5" height="21" fill="#231a1a"/><circle cx="119.7" cy="285" r="0.8" fill="#555"/><path d="M146.8,271.2 H136.8 V298.6 H146.8" fill="none" stroke="#262626" stroke-width="1" stroke-dasharray="6,1.2"/><path d="M141.5,271.2 H147.2 M141.5,298.6 H147.2" stroke="#262626" stroke-width="1.6"/><rect x="146.8" y="280.2" width="3.5" height="10.1" fill="#f4f4f4" stroke="#262626" stroke-width="1"/><rect x="150.3" y="277.8" width="11.45" height="14.7" fill="#f8f8f8" stroke="#262626" stroke-width="1.1"/><path d="M150.3,281.6 H161.7" stroke="#888" stroke-width="0.9"/><path d="M150.3,287.3 H161.7" stroke="#262626" stroke-width="1"/><rect x="161.75" y="276.6" width="18.75" height="17.3" fill="#f6f6f6" stroke="#262626" stroke-width="1.1"/><rect x="161.75" y="276.2" width="18.75" height="2.4" fill="#262626"/><rect x="161.75" y="291.7" width="18.75" height="2.6" fill="#262626"/><rect x="164.5" y="277" width="1.6" height="0.9" fill="#ddd"/><rect x="164.5" y="292.5" width="1.6" height="0.9" fill="#ddd"/><rect x="167.5" y="277" width="1.6" height="0.9" fill="#ddd"/><rect x="167.5" y="292.5" width="1.6" height="0.9" fill="#ddd"/><rect x="170.5" y="277" width="1.6" height="0.9" fill="#ddd"/><rect x="170.5" y="292.5" width="1.6" height="0.9" fill="#ddd"/><rect x="173.5" y="277" width="1.6" height="0.9" fill="#ddd"/><rect x="173.5" y="292.5" width="1.6" height="0.9" fill="#ddd"/><rect x="176.5" y="277" width="1.6" height="0.9" fill="#ddd"/><rect x="176.5" y="292.5" width="1.6" height="0.9" fill="#ddd"/><rect x="163.7" y="280.2" width="3.2" height="9.5" fill="none" stroke="#555" stroke-width="0.9"/><path d="M174.2,282.9 V287.4 L176.8,285.1 Z" fill="none" stroke="#262626" stroke-width="0.9"/><rect x="180.5" y="277" width="7.3" height="16.3" fill="#f8f8f8" stroke="#262626" stroke-width="1.1"/><path d="M180.5,281.9 H187.8 M180.5,288.4 H187.8" stroke="#262626" stroke-width="1"/><path d="M187.8,278.1 L198,279.4 L229.5,280.8 V289.5 L198,290.7 L187.8,291.1" fill="#f8f8f8" stroke="#262626" stroke-width="1.2"/><rect x="202" y="279.5" width="1.8" height="3" fill="#262626"/><rect x="202" y="287.8" width="1.8" height="2.9" fill="#262626"/><rect x="208" y="279.5" width="1.8" height="3" fill="#262626"/><rect x="208" y="287.8" width="1.8" height="2.9" fill="#262626"/><rect x="213.2" y="279.5" width="1.8" height="3" fill="#262626"/><rect x="213.2" y="287.8" width="1.8" height="2.9" fill="#262626"/><rect x="219" y="279.5" width="1.8" height="3" fill="#262626"/><rect x="219" y="287.8" width="1.8" height="2.9" fill="#262626"/><rect x="225.1" y="279.5" width="1.8" height="3" fill="#262626"/><rect x="225.1" y="287.8" width="1.8" height="2.9" fill="#262626"/><rect x="205.4" y="282" width="1.6" height="6.4" fill="#262626"/><rect x="210.8" y="282" width="1.6" height="6.4" fill="#262626"/><rect x="215.9" y="282" width="1.6" height="6.4" fill="#262626"/><rect x="221.9" y="282" width="1.6" height="6.4" fill="#262626"/></g>
<g transform="translate(970,0) scale(-1,1)"><path d="M122.5,274.4 H119 L111.1,281.8 V288.3 L119,295.4 H122.5" fill="#f4f4f4" stroke="#262626" stroke-width="1"/><rect x="122.4" y="274.1" width="9.5" height="21" fill="#231a1a"/><circle cx="119.7" cy="285" r="0.8" fill="#555"/><path d="M146.8,271.2 H136.8 V298.6 H146.8" fill="none" stroke="#262626" stroke-width="1" stroke-dasharray="6,1.2"/><path d="M141.5,271.2 H147.2 M141.5,298.6 H147.2" stroke="#262626" stroke-width="1.6"/><rect x="146.8" y="280.2" width="3.5" height="10.1" fill="#f4f4f4" stroke="#262626" stroke-width="1"/><rect x="150.3" y="277.8" width="11.45" height="14.7" fill="#f8f8f8" stroke="#262626" stroke-width="1.1"/><path d="M150.3,281.6 H161.7" stroke="#888" stroke-width="0.9"/><path d="M150.3,287.3 H161.7" stroke="#262626" stroke-width="1"/><rect x="161.75" y="276.6" width="18.75" height="17.3" fill="#f6f6f6" stroke="#262626" stroke-width="1.1"/><rect x="161.75" y="276.2" width="18.75" height="2.4" fill="#262626"/><rect x="161.75" y="291.7" width="18.75" height="2.6" fill="#262626"/><rect x="164.5" y="277" width="1.6" height="0.9" fill="#ddd"/><rect x="164.5" y="292.5" width="1.6" height="0.9" fill="#ddd"/><rect x="167.5" y="277" width="1.6" height="0.9" fill="#ddd"/><rect x="167.5" y="292.5" width="1.6" height="0.9" fill="#ddd"/><rect x="170.5" y="277" width="1.6" height="0.9" fill="#ddd"/><rect x="170.5" y="292.5" width="1.6" height="0.9" fill="#ddd"/><rect x="173.5" y="277" width="1.6" height="0.9" fill="#ddd"/><rect x="173.5" y="292.5" width="1.6" height="0.9" fill="#ddd"/><rect x="176.5" y="277" width="1.6" height="0.9" fill="#ddd"/><rect x="176.5" y="292.5" width="1.6" height="0.9" fill="#ddd"/><rect x="163.7" y="280.2" width="3.2" height="9.5" fill="none" stroke="#555" stroke-width="0.9"/><path d="M174.2,282.9 V287.4 L176.8,285.1 Z" fill="none" stroke="#262626" stroke-width="0.9"/><rect x="180.5" y="277" width="7.3" height="16.3" fill="#f8f8f8" stroke="#262626" stroke-width="1.1"/><path d="M180.5,281.9 H187.8 M180.5,288.4 H187.8" stroke="#262626" stroke-width="1"/><path d="M187.8,278.1 L198,279.4 L229.5,280.8 V289.5 L198,290.7 L187.8,291.1" fill="#f8f8f8" stroke="#262626" stroke-width="1.2"/><rect x="202" y="279.5" width="1.8" height="3" fill="#262626"/><rect x="202" y="287.8" width="1.8" height="2.9" fill="#262626"/><rect x="208" y="279.5" width="1.8" height="3" fill="#262626"/><rect x="208" y="287.8" width="1.8" height="2.9" fill="#262626"/><rect x="213.2" y="279.5" width="1.8" height="3" fill="#262626"/><rect x="213.2" y="287.8" width="1.8" height="2.9" fill="#262626"/><rect x="219" y="279.5" width="1.8" height="3" fill="#262626"/><rect x="219" y="287.8" width="1.8" height="2.9" fill="#262626"/><rect x="225.1" y="279.5" width="1.8" height="3" fill="#262626"/><rect x="225.1" y="287.8" width="1.8" height="2.9" fill="#262626"/><rect x="205.4" y="282" width="1.6" height="6.4" fill="#262626"/><rect x="210.8" y="282" width="1.6" height="6.4" fill="#262626"/><rect x="215.9" y="282" width="1.6" height="6.4" fill="#262626"/><rect x="221.9" y="282" width="1.6" height="6.4" fill="#262626"/></g>
<text transform="translate(172.7,289.2) rotate(-90)" font-size="5.2" font-weight="bold" fill="#222" textLength="8" lengthAdjust="spacingAndGlyphs">PULL</text>
<text transform="translate(797.3,281) rotate(90)" font-size="5.2" font-weight="bold" fill="#222" textLength="8" lengthAdjust="spacingAndGlyphs">PULL</text>
<text transform="translate(136.4,267.3) scale(0.7,1)" font-size="11.6" fill="#222">A</text>
<text transform="translate(136.4,307.7) scale(0.7,1)" font-size="11.6" fill="#222">A</text>
<text transform="translate(826.8,266.8) scale(0.75,1)" font-size="11" fill="#222">B</text>
<text transform="translate(826.8,311.2) scale(0.75,1)" font-size="11" fill="#222">B</text>
<text x="170.9" y="259" font-size="13.5" word-spacing="0.6" fill="#1a1a1a">key up</text>
<text x="756.7" y="258.2" font-size="13.5" word-spacing="0.6" fill="#1a1a1a">key up</text>
<path d="M170.4,258.1 L158.1,279.9 M794.2,260.8 L810.9,280.7" stroke="#222" stroke-width="1"/>
<path d="M122.7,295.1 L129.2,310.4 H140.4 M169.7,292.9 L176.2,309.6 H183.5 M199.4,290.7 L205.2,308.1 H215.4 M387,288.6 L392.2,305.8 H404.1" fill="none" stroke="#262626" stroke-width="1.1"/>
<path d="M143.74,318.30 L143.74,311.15 L141.21,312.70 L141.21,311.35 L144.11,308.63 L145.13,308.63 L145.13,318.30 Z" fill="#1a1a1a"/>
<text x="185.50" y="318.10" font-size="13.5" fill="#1a1a1a">2</text>
<text x="216.00" y="316.60" font-size="13.5" fill="#1a1a1a">3</text>
<text x="404.30" y="315.00" font-size="13.5" fill="#1a1a1a">4</text>
<defs><linearGradient id="bg1" x1="0" y1="0" x2="0" y2="1"><stop offset="0" stop-color="#bcbac8"/><stop offset="0.5" stop-color="#aca8c2"/><stop offset="1" stop-color="#a6a1be"/></linearGradient></defs>
<path d="M47.7,464 L110.4,352.7 H584.5 L561.1,463.9" fill="none" stroke="#e6e6e6" stroke-width="1"/>
<path d="M55.7,464 L115.3,358.1 H577.5 L555.3,463.9" fill="none" stroke="#dadada" stroke-width="1"/>
<path d="M63.7,464 L120.3,363.5 H568.1 L547.0,463.9" fill="none" stroke="#e6e6e6" stroke-width="1"/>
<path d="M81.5,444.5 L124.5,368.1 H560.0 L539.9,463.9" fill="none" stroke="#e8e8e8" stroke-width="1"/>
<path d="M95.3,444.5 L133.0,377.4 H543.8 L525.6,463.9" fill="none" stroke="#e6e6e6" stroke-width="1"/>
<path d="M103.1,444.5 L137.9,382.7 H534.5 L521.5,444.5" fill="none" stroke="#e4e4e4" stroke-width="1"/>
<path d="M106.7,444.5 L140.1,385.1 H530.3 L517.8,444.5" fill="none" stroke="#e8e8e8" stroke-width="1"/>
<path d="M121.5,444.5 L149.3,395.1 H512.8 L502.4,444.5" fill="none" stroke="#dedede" stroke-width="1"/>
<path d="M131.7,444.5 L155.6,402 H500.7 L491.8,444.5" fill="none" stroke="#e6e6e6" stroke-width="1"/>
<path d="M135.1,444.5 L157.7,404.3 H496.7 L488.2,444.5" fill="none" stroke="#e8e8e8" stroke-width="1"/>
<path d="M128.7,464 L160.6,407.4 H491.3 L483.5,444.5" fill="none" stroke="#e6e6e6" stroke-width="1"/>
<path d="M136.7,464 L165.5,412.8 H481.8 L475.1,444.5" fill="none" stroke="#dcdcdc" stroke-width="1"/>
<path d="M146.9,464 L171.9,419.7 H469.7 L464.5,444.5" fill="none" stroke="#e6e6e6" stroke-width="1"/>
<path d="M153.9,464 L176.2,424.4 H461.5 L457.3,444.5" fill="none" stroke="#e8e8e8" stroke-width="1"/>
<path d="M143.7,389.5 H520.3 L507.2,444.6" fill="none" stroke="#474747" stroke-width="1.3"/>
<path d="M27.2,463.9 H64.4 V444.5 H127.2 V463.9 H164 V503 H27.2 Z" fill="url(#bg1)" stroke="#4d4b55" stroke-width="1.6"/>
<path d="M424.4,463.9 H461.6 V444.5 H524.3 V463.9 H561.3 V503 H424.4 Z" fill="url(#bg1)" stroke="#4d4b55" stroke-width="1.6"/>
<circle cx="35.4" cy="478" r="5.3" fill="#2b6cb5" stroke="#26262e" stroke-width="1.1"/>
<g transform="translate(39.3,518.8) rotate(-90)"><path d="M2.88,0.00 L2.88,-5.83 L0.82,-4.56 L0.82,-5.67 L3.19,-7.88 L4.01,-7.88 L4.01,0.00 Z" fill="#1a1a1a"/></g>
<circle cx="432.6" cy="478" r="5.3" fill="#7bb9e5" stroke="#26262e" stroke-width="1.1"/>
<g transform="translate(436.5,516.4) rotate(-90)"><path d="M2.88,0.00 L2.88,-5.83 L0.82,-4.56 L0.82,-5.67 L3.19,-7.88 L4.01,-7.88 L4.01,0.00 Z" fill="#1a1a1a"/></g>
<circle cx="46.4" cy="478" r="5.3" fill="#f58d3c" stroke="#26262e" stroke-width="1.1"/>
<g transform="translate(50.3,518.8) rotate(-90)"><text x="0.00" y="0.00" font-size="11" fill="#1a1a1a">2</text></g>
<circle cx="443.6" cy="478" r="5.3" fill="#f28dc1" stroke="#26262e" stroke-width="1.1"/>
<g transform="translate(447.5,516.4) rotate(-90)"><text x="0.00" y="0.00" font-size="11" fill="#1a1a1a">2</text></g>
<circle cx="57.4" cy="478" r="5.3" fill="#4bb847" stroke="#26262e" stroke-width="1.1"/>
<g transform="translate(61.3,518.8) rotate(-90)"><text x="0.00" y="0.00" font-size="11" fill="#1a1a1a">3</text></g>
<circle cx="454.6" cy="478" r="5.3" fill="#8c4fa6" stroke="#26262e" stroke-width="1.1"/>
<g transform="translate(458.5,516.4) rotate(-90)"><text x="0.00" y="0.00" font-size="11" fill="#1a1a1a">3</text></g>
<circle cx="68.3" cy="478" r="5.3" fill="#a7796a" stroke="#26262e" stroke-width="1.1"/>
<g transform="translate(72.2,518.8) rotate(-90)"><text x="0.00" y="0.00" font-size="11" fill="#1a1a1a">4</text></g>
<circle cx="465.6" cy="478" r="5.3" fill="#f3e74a" stroke="#26262e" stroke-width="1.1"/>
<g transform="translate(469.5,516.4) rotate(-90)"><text x="0.00" y="0.00" font-size="11" fill="#1a1a1a">4</text></g>
<circle cx="79.3" cy="478" r="5.3" fill="#a9a9a9" stroke="#26262e" stroke-width="1.1"/>
<g transform="translate(83.2,518.8) rotate(-90)"><text x="0.00" y="0.00" font-size="11" fill="#1a1a1a">5</text></g>
<circle cx="476.6" cy="478" r="5.3" fill="#a9a9a9" stroke="#26262e" stroke-width="1.1"/>
<g transform="translate(480.5,516.4) rotate(-90)"><text x="0.00" y="0.00" font-size="11" fill="#1a1a1a">5</text></g>
<circle cx="90.3" cy="478" r="5.3" fill="#ffffff" stroke="#26262e" stroke-width="1.1"/>
<g transform="translate(94.2,518.8) rotate(-90)"><text x="0.00" y="0.00" font-size="11" fill="#1a1a1a">6</text></g>
<circle cx="487.6" cy="478" r="5.3" fill="#ef3d3d" stroke="#26262e" stroke-width="1.1"/>
<g transform="translate(491.5,516.4) rotate(-90)"><text x="0.00" y="0.00" font-size="11" fill="#1a1a1a">6</text></g>
<circle cx="101.3" cy="478" r="5.3" fill="#ef3d3d" stroke="#26262e" stroke-width="1.1"/>
<g transform="translate(105.2,518.8) rotate(-90)"><text x="0.00" y="0.00" font-size="11" fill="#1a1a1a">7</text></g>
<circle cx="498.6" cy="478" r="5.3" fill="#ffffff" stroke="#26262e" stroke-width="1.1"/>
<g transform="translate(502.5,516.4) rotate(-90)"><text x="0.00" y="0.00" font-size="11" fill="#1a1a1a">7</text></g>
<circle cx="112.3" cy="478" r="5.3" fill="#a9a9a9" stroke="#26262e" stroke-width="1.1"/>
<g transform="translate(116.2,518.8) rotate(-90)"><text x="0.00" y="0.00" font-size="11" fill="#1a1a1a">8</text></g>
<circle cx="509.6" cy="478" r="5.3" fill="#a9a9a9" stroke="#26262e" stroke-width="1.1"/>
<g transform="translate(513.5,516.4) rotate(-90)"><text x="0.00" y="0.00" font-size="11" fill="#1a1a1a">8</text></g>
<circle cx="123.2" cy="478" r="5.3" fill="#f3e74a" stroke="#26262e" stroke-width="1.1"/>
<g transform="translate(127.1,518.8) rotate(-90)"><text x="0.00" y="0.00" font-size="11" fill="#1a1a1a">9</text></g>
<circle cx="520.6" cy="478" r="5.3" fill="#a7796a" stroke="#26262e" stroke-width="1.1"/>
<g transform="translate(524.5,516.4) rotate(-90)"><text x="0.00" y="0.00" font-size="11" fill="#1a1a1a">9</text></g>
<circle cx="134.2" cy="478" r="5.3" fill="#8c4fa6" stroke="#26262e" stroke-width="1.1"/>
<g transform="translate(138.1,518.8) rotate(-90)"><path d="M2.88,0.00 L2.88,-5.83 L0.82,-4.56 L0.82,-5.67 L3.19,-7.88 L4.01,-7.88 L4.01,0.00 Z" fill="#1a1a1a"/><text x="6.12" y="0.00" font-size="11" fill="#1a1a1a">0</text></g>
<circle cx="531.6" cy="478" r="5.3" fill="#4bb847" stroke="#26262e" stroke-width="1.1"/>
<g transform="translate(535.5,516.4) rotate(-90)"><path d="M2.88,0.00 L2.88,-5.83 L0.82,-4.56 L0.82,-5.67 L3.19,-7.88 L4.01,-7.88 L4.01,0.00 Z" fill="#1a1a1a"/><text x="6.12" y="0.00" font-size="11" fill="#1a1a1a">0</text></g>
<circle cx="145.2" cy="478" r="5.3" fill="#f28dc1" stroke="#26262e" stroke-width="1.1"/>
<g transform="translate(149.1,518.8) rotate(-90)"><path d="M2.88,0.00 L2.88,-5.83 L0.82,-4.56 L0.82,-5.67 L3.19,-7.88 L4.01,-7.88 L4.01,0.00 Z" fill="#1a1a1a"/><path d="M9.00,0.00 L9.00,-5.83 L6.94,-4.56 L6.94,-5.67 L9.31,-7.88 L10.13,-7.88 L10.13,0.00 Z" fill="#1a1a1a"/></g>
<circle cx="542.6" cy="478" r="5.3" fill="#f58d3c" stroke="#26262e" stroke-width="1.1"/>
<g transform="translate(546.5,516.4) rotate(-90)"><path d="M2.88,0.00 L2.88,-5.83 L0.82,-4.56 L0.82,-5.67 L3.19,-7.88 L4.01,-7.88 L4.01,0.00 Z" fill="#1a1a1a"/><path d="M9.00,0.00 L9.00,-5.83 L6.94,-4.56 L6.94,-5.67 L9.31,-7.88 L10.13,-7.88 L10.13,0.00 Z" fill="#1a1a1a"/></g>
<circle cx="156.2" cy="478" r="5.3" fill="#7bb9e5" stroke="#26262e" stroke-width="1.1"/>
<g transform="translate(160.1,518.8) rotate(-90)"><path d="M2.88,0.00 L2.88,-5.83 L0.82,-4.56 L0.82,-5.67 L3.19,-7.88 L4.01,-7.88 L4.01,0.00 Z" fill="#1a1a1a"/><text x="6.12" y="0.00" font-size="11" fill="#1a1a1a">2</text></g>
<circle cx="553.6" cy="478" r="5.3" fill="#2b6cb5" stroke="#26262e" stroke-width="1.1"/>
<g transform="translate(557.5,516.4) rotate(-90)"><path d="M2.88,0.00 L2.88,-5.83 L0.82,-4.56 L0.82,-5.67 L3.19,-7.88 L4.01,-7.88 L4.01,0.00 Z" fill="#1a1a1a"/><text x="6.12" y="0.00" font-size="11" fill="#1a1a1a">2</text></g>
<path d="M507.4,444.6 L510.4,430 M498.4,478 L500.2,474" stroke="#3a3a3a" stroke-width="1"/>
</svg></body></html>
